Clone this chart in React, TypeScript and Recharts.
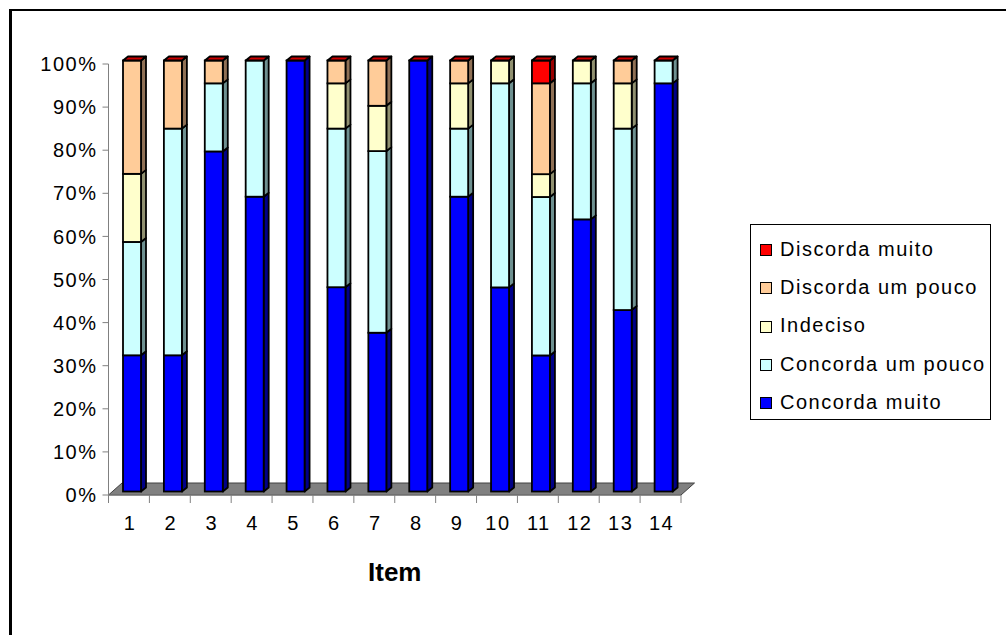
import React from "react";
import { Bar, BarChart, Legend, ReferenceArea, XAxis, YAxis } from "recharts";

const ITEMS = ["1", "2", "3", "4", "5", "6", "7", "8", "9", "10", "11", "12", "13", "14"];

// percentages
const CONCORDA_MUITO = [31.6, 31.6, 78.9, 68.4, 100, 47.4, 36.8, 100, 68.4, 47.4, 31.6, 63.2, 42.1, 94.7];
const CONCORDA_UM_POUCO = [26.3, 52.6, 15.8, 31.6, 0, 36.8, 42.1, 0, 15.8, 47.4, 36.8, 31.6, 42.1, 5.3];
const INDECISO = [15.8, 0, 0, 0, 0, 10.5, 10.5, 0, 10.5, 5.3, 5.3, 5.3, 10.5, 0];
const DISCORDA_UM_POUCO = [26.3, 15.8, 5.3, 0, 0, 5.3, 10.5, 0, 5.3, 0, 21.1, 0, 5.3, 0];
const DISCORDA_MUITO = [0, 0, 0, 0, 0, 0, 0, 0, 0, 0, 5.3, 0, 0, 0];

const Y_TICKS = [0, 0.1, 0.2, 0.3, 0.4, 0.5, 0.6, 0.7, 0.8, 0.9, 1];

const SERIES = [
  { key: "cm", name: "Concorda muito", values: CONCORDA_MUITO, front: "#0000FF", side: "#000088" },
  { key: "cp", name: "Concorda um pouco", values: CONCORDA_UM_POUCO, front: "#CCFFFF", side: "#6E9090" },
  { key: "ind", name: "Indeciso", values: INDECISO, front: "#FFFFCC", side: "#909070" },
  { key: "dp", name: "Discorda um pouco", values: DISCORDA_UM_POUCO, front: "#FFCC99", side: "#8F7055" },
  { key: "dm", name: "Discorda muito", values: DISCORDA_MUITO, front: "#FF0000", side: "#990000" },
];

const data = ITEMS.map((item, i) => {
  const row: Record<string, string | number> = { item };
  SERIES.forEach((s) => {
    row[s.key] = s.values[i];
  });
  return row;
});

// layout (page pixels)
const W = 1006;
const H = 635;
const PLOT_LEFT = 108.5;
const PLOT_RIGHT = 681;
const PLOT_TOP = 64;
const PLOT_BOTTOM = 495;
const Y_AXIS_W = 100;
const X_AXIS_H = 80;
const BAND = (PLOT_RIGHT - PLOT_LEFT) / ITEMS.length;

// fake 3d
const SHIFT_X = 3.5;
const SHIFT_Y = 3.5;
const DEPTH_X = 5;
const DEPTH_Y = 4;
const FLOOR_DX = 13.5;
const FLOOR_DY = 12;
const EDGE = 1.8;

const FONT = "'Liberation Sans', Arial, sans-serif";
const GRID = "#808080";

function makeBlock(front: string, side: string, topFace?: string) {
  return (props: any) => {
    const { x, y, width, height } = props;
    if (x == null || y == null) return <g />;
    const fx = x + SHIFT_X;
    const fy = y - SHIFT_Y;
    const w = width;
    const h = Math.max(0, height || 0);
    return (
      <g>
        {h > 0 && (
          <polygon
            points={`${fx + w},${fy} ${fx + w + DEPTH_X},${fy - DEPTH_Y} ${fx + w + DEPTH_X},${fy + h - DEPTH_Y} ${fx + w},${fy + h}`}
            fill={side}
            stroke="#000"
            strokeWidth={EDGE}
            strokeLinejoin="round"
          />
        )}
        {h > 0 && <rect x={fx} y={fy} width={w} height={h} fill={front} stroke="#000" strokeWidth={EDGE} />}
        {topFace && (
          <polygon
            points={`${fx},${fy} ${fx + DEPTH_X},${fy - DEPTH_Y} ${fx + w + DEPTH_X},${fy - DEPTH_Y} ${fx + w},${fy}`}
            fill={topFace}
            stroke="#000"
            strokeWidth={EDGE}
            strokeLinejoin="round"
          />
        )}
      </g>
    );
  };
}

function Floor(props: any) {
  const { x, y, width, height } = props;
  const yb = y + height;
  return (
    <polygon
      points={`${x},${yb} ${x + width},${yb} ${x + width + FLOOR_DX},${yb - FLOOR_DY} ${x + FLOOR_DX},${yb - FLOOR_DY}`}
      fill="#808080"
      stroke="#404040"
      strokeWidth={1}
    />
  );
}

function ItemTick(props: any) {
  const { x, payload, index } = props;
  const half = BAND / 2;
  return (
    <g>
      <line x1={x - half} y1={PLOT_BOTTOM} x2={x - half} y2={PLOT_BOTTOM + 8} stroke={GRID} strokeWidth={1} />
      {index === ITEMS.length - 1 && (
        <line x1={x + half} y1={PLOT_BOTTOM} x2={x + half} y2={PLOT_BOTTOM + 8} stroke={GRID} strokeWidth={1} />
      )}
      <text
        x={x + 1}
        y={PLOT_BOTTOM + 28}
        textAnchor="middle"
        dominantBaseline="central"
        fontSize={20}
        letterSpacing={1.5}
        fill="#000"
        fontFamily={FONT}
      >
        {payload.value}
      </text>
    </g>
  );
}

function ItemLabel(props: any) {
  const { viewBox } = props;
  return (
    <text
      x={viewBox.x + viewBox.width / 2}
      y={viewBox.y + 77}
      textAnchor="middle"
      dominantBaseline="central"
      fontSize={26}
      fontWeight="bold"
      fill="#000"
      fontFamily={FONT}
    >
      Item
    </text>
  );
}

function LegendBox() {
  return (
    <div
      style={{
        width: 241,
        height: 196,
        boxSizing: "border-box",
        border: "1px solid #000",
        background: "#fff",
        paddingTop: 5,
        fontFamily: FONT,
      }}
    >
      {[...SERIES].reverse().map((s) => (
        <div key={s.key} style={{ display: "flex", alignItems: "center", height: 38.3, paddingLeft: 9 }}>
          <span
            style={{
              display: "inline-block",
              width: 10,
              height: 10,
              background: s.front,
              border: "1.5px solid #000",
              marginRight: 8,
              marginTop: 2,
            }}
          />
          <span style={{ fontSize: 20, letterSpacing: 1.5, color: "#000", whiteSpace: "nowrap" }}>{s.name}</span>
        </div>
      ))}
    </div>
  );
}

export default function App() {
  return (
    <div style={{ position: "absolute", left: 0, top: 0, width: W, height: H, background: "#fff", fontFamily: FONT }}>
      <div
        style={{
          position: "absolute",
          left: 9,
          top: 9,
          width: W - 9,
          height: H - 9,
          boxSizing: "border-box",
          borderTop: "2px solid #000",
          borderLeft: "3px solid #000",
        }}
      />
      <BarChart
        width={W}
        height={H}
        data={data}
        stackOffset="expand"
        barSize={18}
        margin={{
          top: PLOT_TOP,
          right: W - PLOT_RIGHT,
          bottom: H - PLOT_BOTTOM - X_AXIS_H,
          left: PLOT_LEFT - Y_AXIS_W,
        }}
      >
        <ReferenceArea x1="1" x2="14" y1={0} y2={0.05} shape={<Floor />} />
        <XAxis
          dataKey="item"
          height={X_AXIS_H}
          axisLine={{ stroke: GRID, strokeWidth: 1 }}
          tickLine={false}
          tick={<ItemTick />}
          interval={0}
          label={<ItemLabel />}
        />
        <YAxis
          width={Y_AXIS_W}
          domain={[0, 1]}
          ticks={Y_TICKS}
          interval={0}
          tickFormatter={(v: number) => `${Math.round(v * 100)}%`}
          axisLine={{ stroke: GRID, strokeWidth: 1 }}
          tickLine={{ stroke: GRID, strokeWidth: 1 }}
          tickSize={6}
          tickMargin={5}
          tick={{ fill: "#000", fontSize: 20, letterSpacing: 1.5, fontFamily: FONT }}
        />
        {SERIES.map((s, i) => (
          <Bar
            key={s.key}
            dataKey={s.key}
            name={s.name}
            stackId="a"
            fill={s.front}
            isAnimationActive={false}
            shape={makeBlock(s.front, s.side, i === SERIES.length - 1 ? "#CC0000" : undefined)}
          />
        ))}
        <Legend
          layout="vertical"
          align="center"
          verticalAlign="middle"
          content={<LegendBox />}
          wrapperStyle={{ left: 750, top: 224, width: 241, height: 196 }}
        />
      </BarChart>
    </div>
  );
}
